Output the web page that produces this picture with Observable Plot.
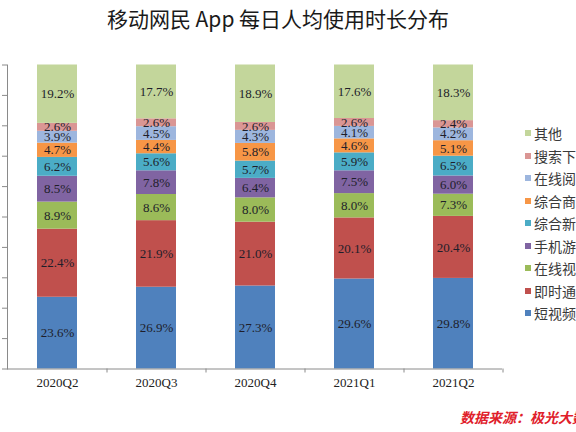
<!DOCTYPE html>
<html>
<head>
<meta charset="utf-8">
<script src="https://cdn.jsdelivr.net/npm/d3@7"></script>
<script src="https://cdn.jsdelivr.net/npm/@observablehq/plot@0.6"></script>
<style>
body { margin: 0; background: #fff; }
#chart { position: relative; width: 576px; height: 432px; overflow: hidden; background: #fff; }
#title { height: 40px; line-height: 36px; text-align: center; padding-right: 20px; font-family: "Noto Sans CJK SC", sans-serif; font-size: 21px; font-weight: 400; color: #1a1a1a; }
#legend { position: absolute; left: 525px; top: 122px; width: 140px; }
#legend .lg-swatches-wrap { flex-direction: column; align-items: flex-start; min-height: 0; margin: 0; }
#legend .lg-swatch { height: 22.5px; margin-right: 0; white-space: nowrap; font-family: "Liberation Serif", "Noto Sans CJK SC", serif; font-size: 14px; color: #3a3a3a; }
#legend .lg-swatch svg { margin-right: 3px; }
#source { position: absolute; left: 460px; top: 407px; white-space: nowrap; font-family: "Noto Sans CJK SC", sans-serif; font-size: 14px; font-weight: bold; font-style: italic; color: #e0202a; }
</style>
</head>
<body>
<div id="chart">
  <div id="title">移动网民 App 每日人均使用时长分布</div>
  <div id="plot"></div>
  <div id="legend"></div>
  <div id="source">数据来源：极光大数据</div>
</div>
<script>
// Quarters on the x axis
const quarters = ["2020Q2", "2020Q3", "2020Q4", "2021Q1", "2021Q2"];

// App categories, stacked from the bottom up
const categories = ["短视频", "即时通讯", "在线视频", "手机游戏", "综合新闻", "综合商城", "在线阅读", "搜索下载", "其他"];
const colors = ["#4f81bd", "#c0504d", "#9bbb59", "#8064a2", "#4bacc6", "#f79646", "#9db6de", "#da9694", "#c3d69b"];

// Share of daily usage time (%), one value per quarter
const shortVideo  = [23.6, 26.9, 27.3, 29.6, 29.8];
const instantMsg  = [22.4, 21.9, 21.0, 20.1, 20.4];
const onlineVideo = [8.9, 8.6, 8.0, 8.0, 7.3];
const mobileGame  = [8.5, 7.8, 6.4, 7.5, 6.0];
const news        = [6.2, 5.6, 5.7, 5.9, 6.5];
const shopping    = [4.7, 4.4, 5.8, 4.6, 5.1];
const reading     = [3.9, 4.5, 4.3, 4.1, 4.2];
const search      = [2.6, 2.6, 2.6, 2.6, 2.4];
const other       = [19.2, 17.7, 18.9, 17.6, 18.3];

const series = [shortVideo, instantMsg, onlineVideo, mobileGame, news, shopping, reading, search, other];

// Flatten into tidy rows for Plot
const rows = [];
categories.forEach((cat, i) => {
    quarters.forEach((q, j) => {
        rows.push({quarter: q, cat: cat, value: series[i][j]});
    });
});

const width = 576;
const height = 392;

const plot = Plot.plot({
    width: width,
    height: height,
    marginLeft: 7,
    marginRight: 74,
    marginTop: 24.5,
    marginBottom: 63.5,
    style: {color: "#8a8a8a", background: "white"},
    x: {
        domain: quarters,
        paddingInner: 0.6,
        paddingOuter: 0.3,
        label: null,
    },
    y: {
        domain: [0, 100],
        ticks: 10,
        tickSize: 5,
        tickFormat: () => "",
        line: true,
        label: null,
    },
    color: {
        domain: categories,
        range: colors,
    },
    marks: [
        Plot.barY(rows, {
            x: "quarter",
            y: "value",
            fill: "cat",
            order: categories,
        }),
        Plot.text(rows, Plot.stackY({
            x: "quarter",
            y: "value",
            z: "cat",
            order: categories,
            text: (d) => d.value.toFixed(1) + "%",
            fontSize: 13,
            fontFamily: "Liberation Serif, serif",
            fill: "#1e1e2a",
        })),
        Plot.ruleY([0], {stroke: "#8a8a8a"}),
        // quarter labels
        Plot.axisX({
            tickSize: 0,
            tickPadding: 9,
            fontSize: 13,
            fontFamily: "Liberation Serif, serif",
            fill: "#222",
            label: null,
        }),
        // small tick marks sit between the bars
        Plot.axisX({
            tickSize: 4,
            tickFormat: () => "",
            dx: 49.5,
            stroke: "#8a8a8a",
            label: null,
        }),
    ],
});

document.getElementById('plot').appendChild(plot);

// Legend lists the categories top-down, matching the stack
const legend = Plot.legend({
    color: {domain: categories.slice().reverse(), range: colors.slice().reverse()},
    legend: "swatches",
    swatchSize: 6,
    className: "lg",
});
document.getElementById('legend').appendChild(legend);
</script>
</body>
</html>
